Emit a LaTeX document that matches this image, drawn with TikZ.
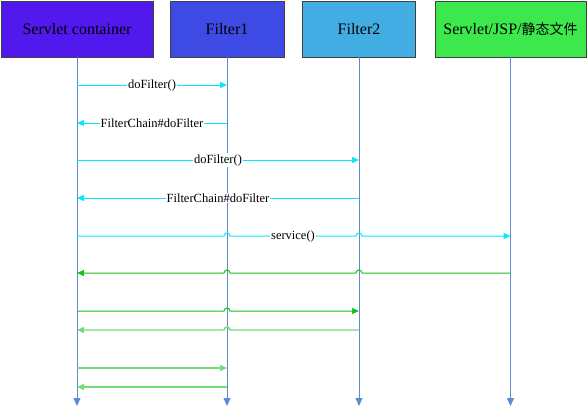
\documentclass[tikz,border=0pt]{standalone}
\usepackage{fontspec}
\setmainfont{Liberation Serif}
\newfontfamily\cjk{Noto Sans CJK SC}
\usepackage{tikz}
\usetikzlibrary{arrows.meta, positioning}

\definecolor{scpurple}{HTML}{5219EE}
\definecolor{fonebl}{HTML}{3D4BE4}
\definecolor{ftwobl}{HTML}{42ADE3}
\definecolor{resgreen}{HTML}{3CE84C}
\definecolor{lifeblue}{HTML}{5B8BD0}
\definecolor{msgcyan}{HTML}{08E6FF}
\definecolor{msggreen}{HTML}{1CBE1C}
\definecolor{msglight}{HTML}{74DC74}

\begin{document}
\begin{tikzpicture}[x=1pt, y=-1pt]

    % Styles
    \tikzset{
        headbox/.style={rectangle, draw=black!75, minimum height=56pt, inner sep=0pt, align=center, font=\fontsize{16}{18}\selectfont},
        lifeline/.style={-{Triangle[length=8pt,width=7pt]}, lifeblue, line width=1pt},
        msg/.style={-{Triangle[length=7pt,width=6pt]}},
        cyanmsg/.style={msg, msgcyan, line width=1pt},
        greenmsg/.style={msg, msggreen, line width=1pt},
        lightmsg/.style={msg, msglight, line width=1.4pt},
        thickmsg/.style={msg, msglight, line width=2pt},
        lbl/.style={fill=white, inner sep=1pt, text=black, font=\fontsize{12.5}{13}\selectfont}
    }

    \useasboundingbox (0,0) rectangle (587,407);

    % Heads
    \node[headbox, fill=scpurple, minimum width=152pt] (sc) at (77, 29) {Servlet container};
    \node[headbox, fill=fonebl, minimum width=114pt] (fone) at (227, 29) {Filter1};
    \node[headbox, fill=ftwobl, minimum width=113pt] (ftwo) at (359, 29) {Filter2};
    \node[headbox, fill=resgreen, minimum width=151pt] (res) at (510.5, 29) {Servlet/JSP/{\cjk\fontsize{14}{16}\selectfont 静态文件}};

    % Lifelines
    \foreach \n in {sc,fone,ftwo,res} {
        \draw[lifeline] (\n.south) -- (\n |- 0,406);
    }

    % Filter chain
    \draw[cyanmsg] (sc |- 0,85) -- node[lbl]{doFilter()} (fone |- 0,85);
    \draw[cyanmsg] (fone |- 0,123) -- node[lbl]{FilterChain\#doFilter} (sc |- 0,123);
    \draw[cyanmsg] (sc |- 0,160) -- node[lbl]{doFilter()} (ftwo |- 0,160);
    \draw[cyanmsg] (ftwo |- 0,198) -- node[lbl]{FilterChain\#doFilter} (sc |- 0,198);
    \draw[cyanmsg] (sc |- 0,236) -- ([xshift=-3pt]fone |- 0,236) arc[start angle=180, end angle=360, radius=3]
        -- node[lbl]{service()} ([xshift=-3pt]ftwo |- 0,236) arc[start angle=180, end angle=360, radius=3] -- (res |- 0,236);

    % Returns
    \draw[greenmsg] (res |- 0,273) -- ([xshift=3pt]ftwo |- 0,273) arc[start angle=0, end angle=-180, radius=3]
        -- ([xshift=3pt]fone |- 0,273) arc[start angle=0, end angle=-180, radius=3] -- (sc |- 0,273);
    \draw[greenmsg] (sc |- 0,311) -- ([xshift=-3pt]fone |- 0,311) arc[start angle=180, end angle=360, radius=3] -- (ftwo |- 0,311);
    \draw[lightmsg] (ftwo |- 0,330) -- ([xshift=3pt]fone |- 0,330) arc[start angle=0, end angle=-180, radius=3] -- (sc |- 0,330);
    \draw[thickmsg] (sc |- 0,368) -- (fone |- 0,368);
    \draw[thickmsg] (fone |- 0,387) -- (sc |- 0,387);

\end{tikzpicture}
\end{document}
